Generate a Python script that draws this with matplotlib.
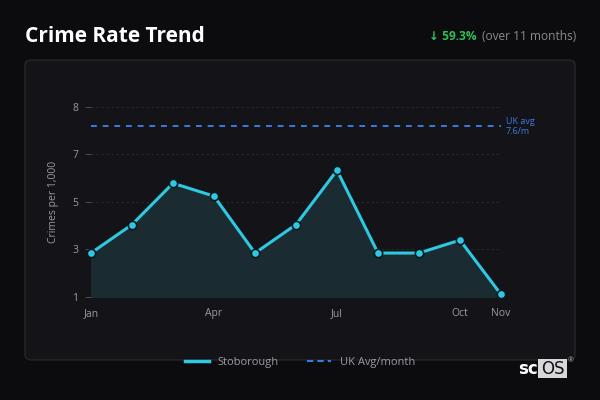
import matplotlib.pyplot as plt
from matplotlib.patches import FancyBboxPatch, Rectangle
from matplotlib.lines import Line2D

plt.rcParams['font.family'] = ['Open Sans', 'DejaVu Sans']

# Data
months = ["Jan", "Feb", "Mar", "Apr", "May", "Jun", "Jul", "Aug", "Sep", "Oct", "Nov"]
rates = [2.7, 3.8, 5.4, 4.9, 2.7, 3.8, 5.9, 2.7, 2.7, 3.2, 1.1]
uk_avg = 7.6
tick_months = ["Jan", "Apr", "Jul", "Oct", "Nov"]
ytick_vals = [1, 2.84, 4.68, 6.52, 8.36]
ytick_labels = ["1", "3", "5", "7", "8"]

bg = "#0c0c0f"
card = "#141418"
cyan = "#2ec8e0"
blue = "#3b7be0"
grey = "#9a9aa0"

fig = plt.figure(figsize=(6, 4), dpi=100)
fig.patch.set_facecolor(bg)

# card background
fig.patches.append(FancyBboxPatch((25 / 600, 1 - 360 / 400), 550 / 600, 300 / 400,
                                  boxstyle="round,pad=0,rounding_size=0.012",
                                  transform=fig.transFigure, facecolor=card,
                                  edgecolor="#2a2a30", linewidth=0.8, zorder=-1))

ax = fig.add_axes([91 / 600, 1 - 297 / 400, 410 / 600, 190.3 / 400])
ax.set_zorder(2)
ax.set_facecolor("none")
x = list(range(len(months)))
ax.fill_between(x, rates, 1, color="#1a2b31", zorder=1)
ax.plot(x, rates, color=cyan, linewidth=2.2, marker="o", markersize=6,
        markerfacecolor=cyan, markeredgecolor="#0c1a20", markeredgewidth=1.2,
        clip_on=False, zorder=3)
ax.axhline(uk_avg, color=blue, linestyle=(0, (3, 3)), linewidth=1.4, zorder=2)
ax.text(len(months) - 1 + 0.12, uk_avg, "UK avg\n7.6/m", color=blue, fontsize=6.5,
        va="center", ha="left", linespacing=1.1)

ax.set_xlim(0, len(months) - 1)
ax.set_ylim(1, 8.36)
ax.set_xticks([months.index(m) for m in tick_months])
ax.set_xticklabels(tick_months)
ax.set_yticks(ytick_vals)
ax.set_yticklabels(ytick_labels)
ax.tick_params(axis="x", length=0, pad=8, colors=grey, labelsize=7.5)
ax.tick_params(axis="y", length=4, width=0.6, color="#55555c", pad=5, colors=grey, labelsize=7.5)
ax.yaxis.grid(True, color="#2a2a30", linestyle=(0, (3, 3)), linewidth=0.6)
for s in ax.spines.values():
    s.set_visible(False)
ax.set_ylabel("Crimes per 1,000", color=grey, fontsize=7.5, labelpad=10)

# title and change
fig.text(25 / 600, 1 - 37 / 400, "Crime Rate Trend", color="white", fontsize=15,
         fontweight="bold", va="center", ha="left")
fig.text(576 / 600, 1 - 37 / 400, "(over 11 months)", color="#8a8a90", fontsize=8.6,
         va="center", ha="right")
fig.text(477 / 600, 1 - 37 / 400, "↓ 59.3%", color="#2fbf5a", fontsize=8.6,
         fontweight="bold", va="center", ha="right")

# legend
handles = [Line2D([0], [0], color=cyan, linewidth=2.5),
           Line2D([0], [0], color=blue, linewidth=1.5, linestyle=(0, (3, 2)))]
fig.legend(handles, ["Stoborough", "UK Avg/month"], loc="center",
           bbox_to_anchor=(300 / 600, 1 - 362 / 400), ncol=2, frameon=False,
           fontsize=8, labelcolor=grey, handlelength=2.2, columnspacing=2.5)

# logo
fig.patches.append(Rectangle((538 / 600, 1 - 378 / 400), 29 / 600, 19 / 400,
                             transform=fig.transFigure, facecolor="#d8d8dc",
                             edgecolor="none", zorder=5))
fig.text(538 / 600, 1 - 369 / 400, "sc", color="white", fontsize=12, fontweight="bold",
         ha="right", va="center", family="DejaVu Sans")
fig.text(552.5 / 600, 1 - 369 / 400, "OS", color="#111114", fontsize=12,
         ha="center", va="center", family="DejaVu Sans", zorder=6)
fig.text(571 / 600, 1 - 361 / 400, "®", color="#aaaaaa", fontsize=5,
         ha="center", va="center")

fig.savefig("out.png", dpi=100, facecolor=bg)
